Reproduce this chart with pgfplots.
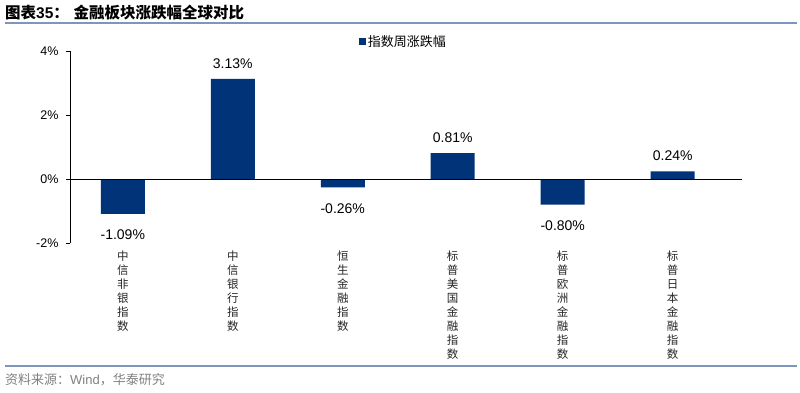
\documentclass[border=0pt]{standalone}
\usepackage{pgfplots}
\pgfplotsset{compat=1.18}
\usepackage{fontspec}
\setmainfont{Liberation Sans}
\newfontfamily\cjk{Noto Sans CJK SC}
\definecolor{barblue}{RGB}{0,51,120}
\definecolor{rulecol}{RGB}{125,150,188}
\definecolor{footgray}{RGB}{128,128,128}
\begin{document}
\begin{tikzpicture}
\begin{axis}[
  name=main,
  scale only axis, width=672pt, height=192pt,
  xmin=-0.48, xmax=5.63, ymin=-2, ymax=4,
  axis y line*=left, axis x line*=bottom,
  x axis line style={draw=none},
  xtick=data, xtick style={draw=none},
  xticklabels={{中\\信\\非\\银\\指\\数},{中\\信\\银\\行\\指\\数},{恒\\生\\金\\融\\指\\数},{标\\普\\美\\国\\金\\融\\指\\数},{标\\普\\欧\\洲\\金\\融\\指\\数},{标\\普\\日\\本\\金\\融\\指\\数}},
  xticklabel style={align=center, font=\cjk\fontsize{11.5}{14}\selectfont, text=black!85, yshift=0pt},
  ytick={-2,0,2,4},
  yticklabel={\pgfmathprintnumber{\tick}\%},
  yticklabel style={font=\fontsize{12.5}{14}\selectfont, xshift=-4pt},
  ytick style={black, line width=0.8pt},
  tick align=outside, major tick length=4pt,
  y axis line style={line width=0.8pt},
  /pgf/number format/assume math mode=true,
  ybar, bar width=44pt,
  nodes near coords={\pgfmathprintnumber[fixed,precision=2,fixed zerofill,assume math mode=true]{\pgfplotspointmeta}\%},
  every node near coord/.append style={font=\fontsize{14}{16}\selectfont, inner ysep=13pt, yshift=-3pt},
  legend style={at={(0.496,1.05)}, anchor=center, draw=none, fill=none, font=\cjk\fontsize{13}{15}\selectfont},
  legend image code/.code={\fill[barblue] (0pt,-3.5pt) rectangle (7pt,3.5pt);},
  clip=false,
]
\addplot[fill=barblue, draw=none] coordinates {(0,-1.09) (1,3.13) (2,-0.26) (3,0.81) (4,-0.80) (5,0.24)};
\addlegendentry{指数周涨跌幅}
\draw[black, line width=0.8pt] (axis cs:-0.48,0) -- (axis cs:5.63,0);
\end{axis}
\begin{scope}[x=1pt,y=1pt,shift={(main.south west)}]
\node[anchor=west,inner sep=0pt] at (-65,230) {\bfseries\fontsize{15.5}{18}\selectfont{\cjk 图表}35{\cjk ：\hspace{0.3em}金融板块涨跌幅全球对比}};
\draw[rulecol,line width=1.3pt] (-65,220) -- (727,220);
\draw[rulecol,line width=1.3pt] (-65,-123) -- (727,-123);
\node[anchor=west,inner sep=0pt,text=footgray] at (-65,-137) {\fontsize{13}{15}\selectfont{\cjk 资料来源：}Wind{\cjk ，华泰研究}};
\pgfresetboundingbox
\path[use as bounding box] (-70,-149) rectangle (730,243);
\end{scope}
\end{tikzpicture}
\end{document}
